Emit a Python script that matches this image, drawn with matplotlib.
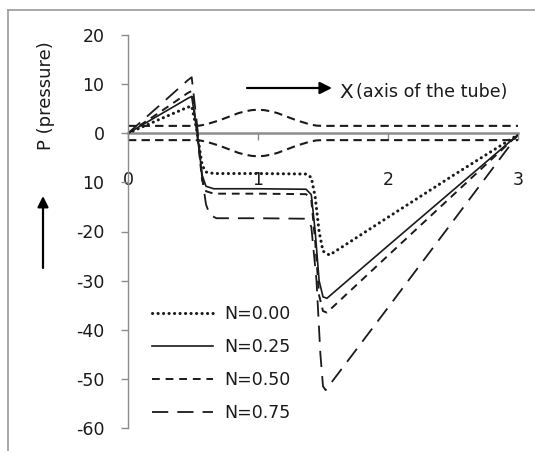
import matplotlib
matplotlib.use("Agg")
import matplotlib.pyplot as plt
from matplotlib.lines import Line2D

plt.rcParams['font.family'] = ['DejaVu Sans']

# Pressure along the tube for four values of N
x_n000 = [0, 0.24, 0.46, 0.49, 0.53, 0.57, 0.60, 0.66, 1.0, 1.37, 1.41, 1.44, 1.47, 1.50, 1.55, 2.0, 2.5, 3.0]
p_n000 = [0, 2.8, 5.3, 5.5, 0.5, -6.5, -7.9, -8.2, -8.2, -8.3, -9.0, -13.0, -20.0, -24.0, -24.8, -17.1, -8.6, -0.3]

x_n025 = [0, 0.24, 0.46, 0.49, 0.53, 0.57, 0.60, 0.66, 1.0, 1.37, 1.41, 1.44, 1.47, 1.50, 1.53, 2.0, 2.5, 3.0]
p_n025 = [0, 3.7, 7.1, 7.5, 0.5, -8.5, -10.8, -11.3, -11.3, -11.4, -12.5, -20.0, -30.0, -33.3, -33.6, -22.9, -11.6, -0.3]

x_n050 = [0, 0.24, 0.46, 0.49, 0.53, 0.57, 0.60, 0.66, 1.0, 1.37, 1.41, 1.44, 1.47, 1.50, 1.53, 2.0, 2.5, 3.0]
p_n050 = [0, 4.2, 8.2, 8.6, 0.5, -9.5, -11.8, -12.3, -12.3, -12.4, -13.5, -22.0, -33.0, -36.2, -36.5, -24.9, -12.6, -0.3]

x_n075 = [0, 0.24, 0.46, 0.49, 0.53, 0.57, 0.60, 0.63, 0.68, 1.0, 1.37, 1.41, 1.45, 1.48, 1.50, 1.52, 2.0, 2.5, 3.0]
p_n075 = [0, 5.6, 10.8, 11.4, 2.0, -9.0, -14.5, -16.6, -17.3, -17.3, -17.4, -19.0, -30.0, -45.0, -51.5, -52.3, -35.5, -17.9, -0.3]

# Tube wall profile (upper and lower boundary)
x_wall = [0, 0.5, 0.55, 0.6, 0.65, 0.7, 0.75, 0.8, 0.85, 0.9, 0.95, 1.0,
          1.05, 1.1, 1.15, 1.2, 1.25, 1.3, 1.35, 1.4, 1.45, 1.5, 3.0]
wall_upper = [1.5, 1.5, 1.55, 1.8, 2.2, 2.6, 3.1, 3.6, 4.1, 4.45, 4.7, 4.8,
              4.7, 4.45, 4.1, 3.6, 3.1, 2.6, 2.2, 1.8, 1.55, 1.5, 1.5]
wall_lower = [-1.4, -1.4, -1.45, -1.7, -2.1, -2.5, -3.0, -3.5, -4.0, -4.35, -4.6, -4.7,
              -4.6, -4.35, -4.0, -3.5, -3.0, -2.5, -2.1, -1.7, -1.45, -1.4, -1.4]

labels = ['N=0.00', 'N=0.25', 'N=0.50', 'N=0.75']
x_ticks = [0, 1, 2, 3]
y_ticks = [-60, -50, -40, -30, -20, -10, 0, 10, 20]
y_tick_labels = ['-60', '-50', '-40', '-30', '-20', '10', '0', '10', '20']

W, H = 535, 451
fig = plt.figure(figsize=(W / 100, H / 100), dpi=100)
ax = fig.add_axes([128 / W, 1 - 428 / H, 390 / W, 393 / H])

ink = '#1a1a1a'
ax.plot(x_wall, wall_upper, color=ink, lw=1.5, dashes=(4, 2.5))
ax.plot(x_wall, wall_lower, color=ink, lw=1.5, dashes=(4, 2.5))

l0, = ax.plot(x_n000, p_n000, color=ink, lw=2.2, linestyle=(0, (0.05, 1.75)),
              dash_capstyle='round', label=labels[0])
l1, = ax.plot(x_n025, p_n025, color=ink, lw=1.2, label=labels[1])
l2, = ax.plot(x_n050, p_n050, color=ink, lw=1.4, dashes=(4, 3), label=labels[2])
l3, = ax.plot(x_n075, p_n075, color=ink, lw=1.3, dashes=(9, 5), label=labels[3])

ax.set_xlim(0, 3)
ax.set_ylim(-60, 20)

axis_grey = '#8c8c8c'
for s in ('top', 'right'):
    ax.spines[s].set_visible(False)
ax.spines['left'].set_color(axis_grey)
ax.spines['left'].set_linewidth(1.0)
ax.spines['bottom'].set_position(('data', 0))
ax.spines['bottom'].set_color(axis_grey)
ax.spines['bottom'].set_linewidth(1.8)
ax.spines['bottom'].set_zorder(1)

ax.set_xticks(x_ticks)
ax.set_xticklabels([str(v) for v in x_ticks])
ax.set_yticks(y_ticks)
ax.set_yticklabels(y_tick_labels)
ax.tick_params(axis='x', direction='out', length=5, width=1, color=axis_grey,
               pad=22, labelsize=12.5, labelcolor=ink)
ax.tick_params(axis='y', direction='out', length=5, width=1, color=axis_grey,
               pad=12, labelsize=12.5, labelcolor=ink)

leg = ax.legend(handles=[l0, l1, l2, l3], loc='upper left',
                bbox_to_anchor=((152 - 128) / 390, (428 - 305) / 393),
                frameon=False, fontsize=12.5, handlelength=3.5,
                handletextpad=0.65, labelspacing=0.87, borderpad=0,
                borderaxespad=0)
for t in leg.get_texts():
    t.set_color(ink)

# Direction of the tube axis
ax.annotate('', xy=(332, H - 88), xytext=(247, H - 88), xycoords='figure pixels',
            textcoords='figure pixels',
            arrowprops=dict(arrowstyle='-|>', color='black', lw=1.6,
                            mutation_scale=18, shrinkA=0, shrinkB=0))
fig.text(339 / W, 1 - 92 / H, 'X', fontsize=14.5, color=ink, ha='left', va='center')
fig.text(356 / W, 1 - 92 / H, '(axis of the tube)', fontsize=12.6, color=ink,
         ha='left', va='center')

# Pressure axis label with upward arrow
fig.text(46 / W, 1 - 96 / H, 'P (pressure)', fontsize=13, color=ink, rotation=90,
         ha='center', va='center')
ax.annotate('', xy=(43, H - 196), xytext=(43, H - 268), xycoords='figure pixels',
            textcoords='figure pixels',
            arrowprops=dict(arrowstyle='-|>', color='black', lw=1.6,
                            mutation_scale=16, shrinkA=0, shrinkB=0))

# Chart area frame
frame_grey = '#9a9a9a'
fig.add_artist(Line2D([8 / W, 1.0], [1 - 10 / H, 1 - 10 / H], color=frame_grey,
                      lw=1.2, transform=fig.transFigure))
fig.add_artist(Line2D([8 / W, 8 / W], [0.0, 1 - 10 / H], color=frame_grey,
                      lw=1.2, transform=fig.transFigure))

fig.savefig('out.png', dpi=100, facecolor='white')
